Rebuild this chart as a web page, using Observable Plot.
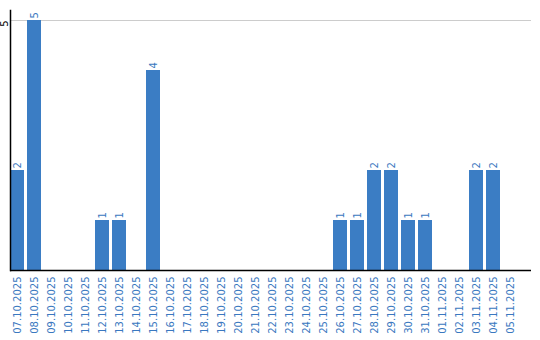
<!DOCTYPE html>
<html>
<head>
<meta charset="utf-8">
<script src="https://cdn.jsdelivr.net/npm/d3@7"></script>
<script src="https://cdn.jsdelivr.net/npm/@observablehq/plot@0.6"></script>
<style>
  html, body { margin: 0; padding: 0; background: #fff; }
  #chart svg { display: block; font-family: "DejaVu Sans", sans-serif; }
</style>
</head>
<body>
<div id="chart"></div>
<script>
const dates = [
  "07.10.2025","08.10.2025","09.10.2025","10.10.2025","11.10.2025","12.10.2025",
  "13.10.2025","14.10.2025","15.10.2025","16.10.2025","17.10.2025","18.10.2025",
  "19.10.2025","20.10.2025","21.10.2025","22.10.2025","23.10.2025","24.10.2025",
  "25.10.2025","26.10.2025","27.10.2025","28.10.2025","29.10.2025","30.10.2025",
  "31.10.2025","01.11.2025","02.11.2025","03.11.2025","04.11.2025","05.11.2025"
];
const counts = [
  2,5,0,0,0,1,
  1,0,4,0,0,0,
  0,0,0,0,0,0,
  0,1,1,2,2,1,
  1,0,0,2,2,0
];
const yTicks = [5];

const data = dates.map((d, i) => ({date: d, value: counts[i]}));
const barColor = "#3b7dc4";
const textColor = "#3a78c0";

const chart = Plot.plot({
  width: 540,
  height: 340,
  marginTop: 10,
  marginBottom: 70,
  marginLeft: 10,
  marginRight: 9,
  style: {fontFamily: "DejaVu Sans, sans-serif", fontSize: "10px", background: "#fff"},
  x: {domain: dates, range: [10, 517], paddingInner: 3 / 17, paddingOuter: 0, align: 0},
  y: {domain: [0, 5.2]},
  marks: [
    Plot.ruleY(yTicks, {stroke: "#cccccc", strokeWidth: 1}),
    Plot.barY(data, {x: "date", y: "value", fill: barColor}),
    Plot.text(data.filter(d => d.value > 0), {
      x: "date", y: "value", text: d => String(d.value),
      rotate: -90, textAnchor: "start", dy: -2, fill: textColor, fontSize: 10
    }),
    Plot.ruleY([0], {stroke: "#000", strokeWidth: 1.5}),
    Plot.frame({anchor: "left", stroke: "#000", strokeWidth: 1.5}),
    Plot.axisY({ticks: yTicks, tickFormat: "d", tickSize: 0, tickPadding: 3, tickRotate: -90, textAnchor: "middle", dy: 3, fill: "#000", label: null, fontSize: 10}),
    Plot.axisX({tickSize: 0, tickPadding: 6, tickRotate: -90, fill: textColor, label: null, fontSize: 10})
  ]
});
document.getElementById("chart").appendChild(chart);
</script>
</body>
</html>
